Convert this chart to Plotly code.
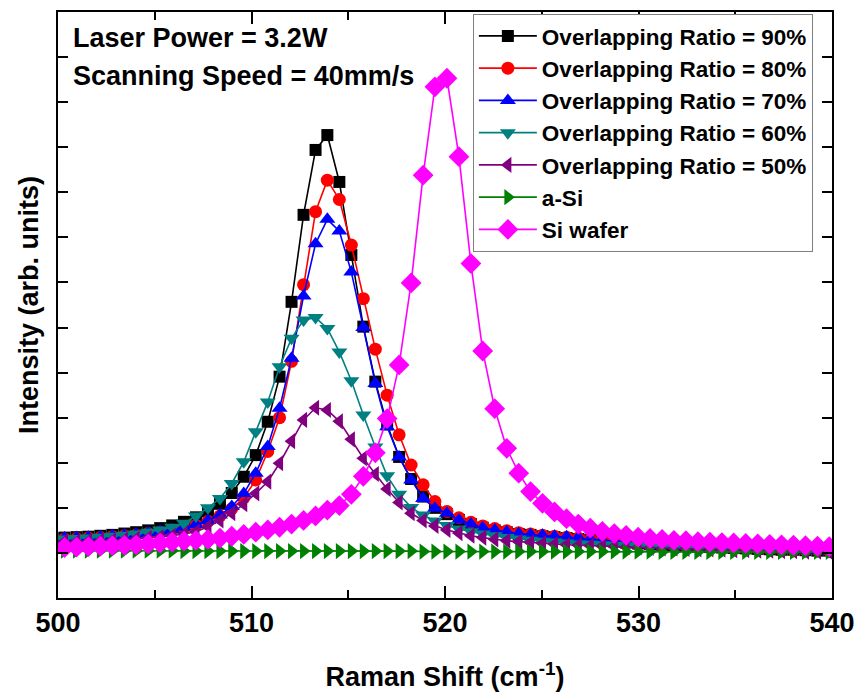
import plotly.graph_objects as go

# Raman shift axis (cm^-1)
raman_shift = [
    499.72, 500.34, 500.96, 501.57, 502.19, 502.81, 503.43, 504.04, 504.66, 505.28,
    505.90, 506.51, 507.13, 507.75, 508.37, 508.98, 509.60, 510.22, 510.84, 511.45,
    512.07, 512.69, 513.31, 513.92, 514.54, 515.16, 515.78, 516.40, 517.01, 517.63,
    518.25, 518.87, 519.48, 520.10, 520.72, 521.34, 521.95, 522.57, 523.19, 523.81,
    524.42, 525.04, 525.66, 526.28, 526.89, 527.51, 528.13, 528.75, 529.36, 529.98,
    530.60, 531.22, 531.83, 532.45, 533.07, 533.69, 534.31, 534.92, 535.54, 536.16,
    536.78, 537.39, 538.01, 538.63, 539.25, 539.86,
]

ratio_90 = [
    1.33, 1.34, 1.35, 1.36, 1.38, 1.40, 1.43, 1.46, 1.50, 1.55,
    1.61, 1.69, 1.79, 1.92, 2.09, 2.33, 2.69, 3.17, 3.91, 4.91,
    6.57, 8.50, 9.94, 10.27, 9.23, 7.61, 6.02, 4.80, 3.85, 3.13,
    2.64, 2.25, 2.00, 1.86, 1.73, 1.64, 1.56, 1.50, 1.46, 1.42,
    1.40, 1.37, 1.35, 1.33, 1.31, 1.29, 1.27, 1.25, 1.23, 1.21,
    1.19, 1.18, 1.16, 1.15, 1.14, 1.13, 1.12, 1.11, 1.10, 1.09,
    1.08, 1.07, 1.07, 1.06, 1.05, 1.05,
]

ratio_80 = [
    1.30, 1.31, 1.32, 1.33, 1.34, 1.36, 1.38, 1.40, 1.43, 1.46,
    1.50, 1.55, 1.61, 1.70, 1.82, 1.98, 2.22, 2.62, 3.25, 4.00,
    5.25, 6.95, 8.57, 9.27, 8.84, 7.83, 6.64, 5.52, 4.50, 3.62,
    2.95, 2.51, 2.14, 1.92, 1.78, 1.68, 1.60, 1.54, 1.49, 1.45,
    1.42, 1.39, 1.37, 1.35, 1.33, 1.30, 1.28, 1.26, 1.24, 1.22,
    1.20, 1.19, 1.17, 1.16, 1.15, 1.14, 1.13, 1.12, 1.11, 1.10,
    1.09, 1.08, 1.07, 1.06, 1.06, 1.05,
]

ratio_70 = [
    1.32, 1.33, 1.34, 1.35, 1.36, 1.38, 1.40, 1.42, 1.45, 1.48,
    1.52, 1.57, 1.63, 1.72, 1.84, 2.03, 2.32, 2.77, 3.36, 4.21,
    5.32, 6.70, 7.86, 8.40, 8.14, 7.23, 6.00, 4.76, 3.80, 3.13,
    2.62, 2.21, 1.99, 1.88, 1.73, 1.64, 1.56, 1.51, 1.47, 1.43,
    1.41, 1.39, 1.37, 1.36, 1.34, 1.31, 1.28, 1.26, 1.24, 1.22,
    1.20, 1.18, 1.17, 1.15, 1.14, 1.13, 1.12, 1.11, 1.10, 1.09,
    1.08, 1.07, 1.07, 1.06, 1.05, 1.05,
]

ratio_60 = [
    1.30, 1.31, 1.32, 1.33, 1.35, 1.37, 1.39, 1.42, 1.46, 1.51,
    1.57, 1.66, 1.82, 2.00, 2.21, 2.54, 3.02, 3.69, 4.35, 5.13,
    5.76, 6.17, 6.22, 5.98, 5.46, 4.82, 4.06, 3.35, 2.71, 2.30,
    2.01, 1.84, 1.71, 1.61, 1.53, 1.47, 1.42, 1.38, 1.34, 1.31,
    1.28, 1.26, 1.24, 1.22, 1.20, 1.19, 1.18, 1.17, 1.16, 1.15,
    1.14, 1.13, 1.12, 1.11, 1.10, 1.09, 1.09, 1.08, 1.07, 1.07,
    1.06, 1.05, 1.05, 1.04, 1.04, 1.03,
]

ratio_50 = [
    1.24, 1.25, 1.25, 1.26, 1.27, 1.28, 1.29, 1.31, 1.33, 1.35,
    1.38, 1.42, 1.47, 1.58, 1.72, 1.88, 2.08, 2.32, 2.58, 2.99,
    3.48, 3.95, 4.22, 4.17, 3.92, 3.52, 3.10, 2.75, 2.42, 2.12,
    1.88, 1.72, 1.60, 1.51, 1.44, 1.38, 1.34, 1.30, 1.27, 1.25,
    1.23, 1.21, 1.19, 1.18, 1.17, 1.16, 1.15, 1.14, 1.13, 1.12,
    1.11, 1.10, 1.10, 1.09, 1.08, 1.08, 1.07, 1.06, 1.06, 1.05,
    1.05, 1.04, 1.04, 1.03, 1.03, 1.02,
]

a_si = [
    1.05, 1.05, 1.05, 1.05, 1.05, 1.05, 1.05, 1.05, 1.05, 1.05,
    1.05, 1.04, 1.04, 1.04, 1.04, 1.04, 1.04, 1.04, 1.04, 1.04,
    1.04, 1.04, 1.04, 1.04, 1.04, 1.04, 1.04, 1.04, 1.04, 1.04,
    1.04, 1.03, 1.03, 1.03, 1.03, 1.03, 1.03, 1.03, 1.03, 1.03,
    1.03, 1.03, 1.03, 1.03, 1.03, 1.03, 1.03, 1.03, 1.03, 1.03,
    1.03, 1.02, 1.02, 1.02, 1.02, 1.02, 1.02, 1.02, 1.02, 1.02,
    1.02, 1.02, 1.02, 1.02, 1.02, 1.02,
]

si_wafer = [
    1.11, 1.12, 1.13, 1.14, 1.15, 1.16, 1.17, 1.18, 1.20, 1.22,
    1.24, 1.26, 1.28, 1.30, 1.33, 1.37, 1.41, 1.46, 1.51, 1.57,
    1.64, 1.72, 1.82, 1.95, 2.05, 2.30, 2.70, 3.22, 3.98, 5.17,
    6.99, 9.38, 11.34, 11.53, 9.79, 7.42, 5.48, 4.20, 3.32, 2.77,
    2.36, 2.10, 1.91, 1.76, 1.64, 1.55, 1.48, 1.43, 1.39, 1.35,
    1.32, 1.30, 1.28, 1.27, 1.25, 1.24, 1.23, 1.22, 1.21, 1.20,
    1.19, 1.18, 1.17, 1.16, 1.15, 1.14,
]

series = [
    ("Overlapping Ratio = 90%", ratio_90, "#000000", "square", 12),
    ("Overlapping Ratio = 80%", ratio_80, "#FF0000", "circle", 13),
    ("Overlapping Ratio = 70%", ratio_70, "#0000FF", "triangle-up", 14),
    ("Overlapping Ratio = 60%", ratio_60, "#008080", "triangle-down", 14),
    ("Overlapping Ratio = 50%", ratio_50, "#800080", "triangle-left", 14),
    ("a-Si", a_si, "#008000", "triangle-right", 14),
    ("Si wafer", si_wafer, "#FF00FF", "diamond", 16),
]

FONT = "Liberation Sans, Arial, sans-serif"

fig = go.Figure()
for name, values, color, symbol, size in series:
    fig.add_trace(go.Scatter(
        x=raman_shift, y=values, name=name, mode="lines+markers",
        line=dict(color=color, width=1.6),
        marker=dict(symbol=symbol, size=size, color=color, line=dict(width=0)),
    ))

fig.update_layout(
    width=858, height=693,
    margin=dict(l=58, r=26, t=12, b=95, autoexpand=False),
    plot_bgcolor="white", paper_bgcolor="white",
    font=dict(family=FONT, size=24, color="black", weight="bold"),
    showlegend=True,
    legend=dict(
        x=0.536, y=0.997, xanchor="left", yanchor="top",
        bgcolor="white", bordercolor="#808080", borderwidth=1,
        font=dict(family=FONT, size=22.5, color="black", weight="bold"),
        tracegroupgap=0, itemsizing="trace", itemwidth=58,
    ),
    xaxis=dict(
        range=[500, 540], tickvals=[500, 510, 520, 530, 540],
        ticks="inside", ticklen=12, tickwidth=2, tickcolor="black",
        minor=dict(dtick=5, ticks="inside", ticklen=8, tickwidth=2, tickcolor="black"),
        showline=True, linecolor="black", linewidth=2, mirror="ticks",
        showgrid=False, zeroline=False, automargin=False,
        tickfont=dict(family=FONT, size=27, weight="bold"),
        title=dict(text="Raman Shift (cm<sup>-1</sup>)", standoff=30,
                   font=dict(family=FONT, size=27, weight="bold")),
    ),
    yaxis=dict(
        range=[0, 13], dtick=1, showticklabels=False,
        ticks="inside", ticklen=10, tickwidth=2, tickcolor="black",
        showline=True, linecolor="black", linewidth=2, mirror="ticks",
        showgrid=False, zeroline=False, automargin=False,
        title=dict(text="Intensity (arb. units)", standoff=10,
                   font=dict(family=FONT, size=27, weight="bold")),
    ),
    annotations=[
        dict(text="Laser Power = 3.2W", xref="paper", yref="paper",
             x=0.017, y=0.955, xanchor="left", yanchor="middle", showarrow=False,
             font=dict(family=FONT, size=27, weight="bold")),
        dict(text="Scanning Speed = 40mm/s", xref="paper", yref="paper",
             x=0.017, y=0.890, xanchor="left", yanchor="middle", showarrow=False,
             font=dict(family=FONT, size=27, weight="bold")),
    ],
)

fig.write_html("out.html")
